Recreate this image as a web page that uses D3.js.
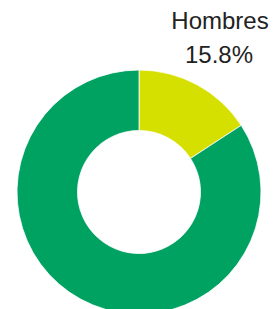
<!DOCTYPE html>
<html><head><meta charset="utf-8">
<script src="https://cdn.jsdelivr.net/npm/d3@7"></script>
<style>html,body{margin:0;padding:0;background:#fff;overflow:hidden}</style>
</head><body>
<svg id="c" width="277" height="309"></svg>
<script>
const categories = ["Hombres", "Mujeres"];
const values = [15.8, 84.2];
const colors = ["#D5E000", "#00A262"];
const svg = d3.select("#c");
const cx = 139, cy = 192, rOuter = 122, rInner = 61.5;
const g = svg.append("g").attr("transform", `translate(${cx},${cy})`);
const pie = d3.pie().sort(null).value(d => d.v);
const data = pie(categories.map((c, i) => ({c, v: values[i], col: colors[i]})));
const arc = d3.arc().innerRadius(rInner).outerRadius(rOuter);
g.selectAll("path").data(data).join("path")
  .attr("d", arc).attr("fill", d => d.data.col)
  .attr("stroke", "#fff").attr("stroke-width", 0.8);
// label for visible slice
const lab = svg.append("text").attr("font-family", "Liberation Sans, Arial, sans-serif")
  .attr("font-size", 24).attr("fill", "#222").attr("text-anchor", "middle");
lab.append("tspan").attr("x", 220).attr("y", 29).text(categories[0]);
lab.append("tspan").attr("x", 219).attr("y", 63).text(d3.format(".1f")(values[0]) + "%");
</script>
</body></html>
